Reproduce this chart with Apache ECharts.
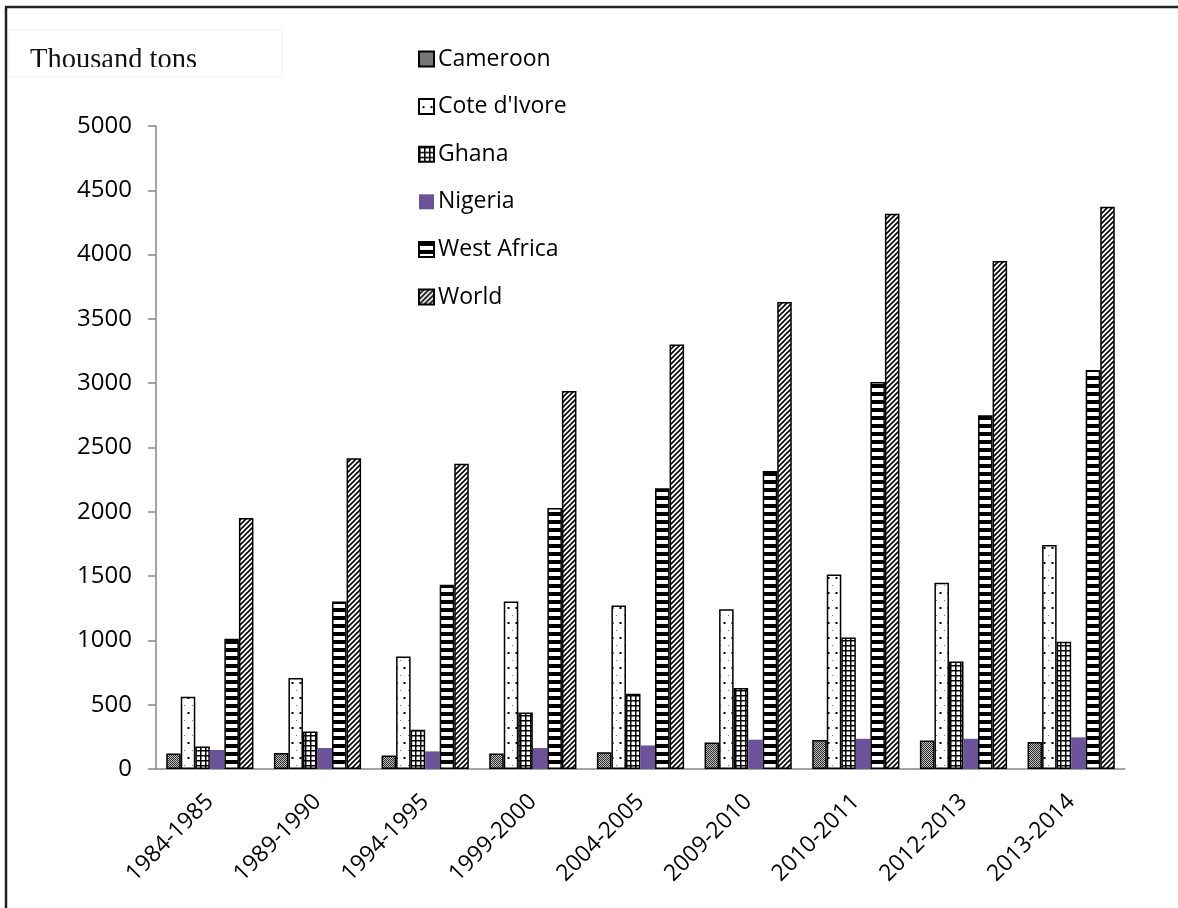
<!DOCTYPE html>
<html>
<head>
<meta charset="utf-8">
<script src="https://cdn.jsdelivr.net/npm/echarts@6/dist/echarts.min.js"></script>
<style>
html,body{margin:0;padding:0;background:#fff;}
#chart{width:1178px;height:908px;}
</style>
</head>
<body>
<div id="chart"></div>
<script>
// ---- data ----
const categories = ['1984-1985','1989-1990','1994-1995','1999-2000','2004-2005','2009-2010','2010-2011','2012-2013','2013-2014'];
const seriesNames = ['Cameroon', "Cote d'Ivore", 'Ghana', 'Nigeria', 'West Africa', 'World'];
const cameroon   = [120, 125, 105, 120, 130, 207, 225, 221, 209];
const coteDIvore = [562, 707, 875, 1303, 1272, 1243, 1512, 1449, 1742];
const ghana      = [175, 292, 305, 440, 585, 630, 1023, 836, 989];
const nigeria    = [148, 163, 137, 163, 183, 228, 235, 235, 246];
const westAfrica = [1013, 1303, 1432, 2029, 2184, 2318, 3010, 2751, 3102];
const world      = [1951, 2417, 2373, 2940, 3300, 3632, 4318, 3951, 4373];
const yTicks = { min: 0, max: 5000, interval: 500 };
const yUnit = 'Thousand tons';

// ---- patterns ----
function tile(w, h, draw) {
  const c = document.createElement('canvas');
  c.width = w; c.height = h;
  const ctx = c.getContext('2d');
  ctx.fillStyle = '#fff'; ctx.fillRect(0, 0, w, h);
  draw(ctx, w, h);
  return { image: c, repeat: 'repeat' };
}
const patCameroon = tile(2, 2, (ctx) => {
  ctx.fillStyle = '#c4c4c4'; ctx.fillRect(0,0,2,2);
  ctx.fillStyle = '#2a2a2a'; ctx.fillRect(0,0,1,1); ctx.fillRect(1,1,1,1);
});
const patCote = tile(8, 15, (ctx) => {
  ctx.fillStyle = '#000'; ctx.fillRect(3.5, 7, 2, 2);
  ctx.fillStyle = '#777'; ctx.fillRect(0, 0, 1, 1);
});
const patGhana = tile(5, 5, (ctx) => {
  ctx.fillStyle = '#000';
  ctx.fillRect(0, 0, 5, 1.5);
  ctx.fillRect(0, 0, 1.5, 5);
});
const patWA = tile(4, 8, (ctx) => {
  ctx.fillStyle = '#000'; ctx.fillRect(0, 0, 4, 4);
});
const patWorld = tile(5, 5, (ctx) => {
  ctx.strokeStyle = '#000'; ctx.lineWidth = 1.6;
  ctx.beginPath();
  ctx.moveTo(-1, 6); ctx.lineTo(6, -1);
  ctx.moveTo(-1, 1); ctx.lineTo(1, -1);
  ctx.moveTo(4, 6); ctx.lineTo(6, 4);
  ctx.stroke();
});

const fills = [patCameroon, patCote, patGhana, '#6c5299', patWA, patWorld];
const values = [cameroon, coteDIvore, ghana, nigeria, westAfrica, world];

const chart = echarts.init(document.getElementById('chart'));
const font = '"Open Sans", "Noto Sans", sans-serif';

chart.setOption({
  animation: false,
  backgroundColor: '#fff',
  grid: { left: 156, right: 53, top: 126, bottom: 139, containLabel: false },
  legend: {
    orient: 'vertical',
    left: 413, top: 42,
    itemWidth: 15, itemHeight: 15,
    itemGap: 23.6,
    icon: 'rect',
    textStyle: { fontFamily: font, fontSize: 23, color: '#000', lineHeight: 24, padding: [0,0,0,-1] },
    data: seriesNames
  },
  xAxis: {
    type: 'category',
    data: categories,
    axisLine: { lineStyle: { color: '#868686', width: 1.5 } },
    axisTick: { length: 7, lineStyle: { color: '#868686', width: 1.5 } },
    axisLabel: { rotate: 45, margin: 29, fontFamily: font, fontSize: 23, color: '#000' }
  },
  yAxis: {
    type: 'value',
    min: yTicks.min, max: yTicks.max, interval: yTicks.interval,
    axisLine: { show: true, lineStyle: { color: '#868686', width: 1.5 } },
    axisTick: { show: true, length: 8, lineStyle: { color: '#868686', width: 1.5 } },
    splitLine: { show: false },
    axisLabel: { margin: 24, fontFamily: font, fontSize: 24, color: '#000', formatter: (v) => String(v) }
  },
  series: seriesNames.map((name, i) => ({
    name,
    type: 'bar',
    data: values[i],
    barGap: '0%',
    barCategoryGap: '19%',
    itemStyle: i === 3
      ? { color: fills[i] }
      : { color: fills[i], borderColor: '#000', borderWidth: 1.5 }
  })),
  graphic: [
    { type: 'line', shape: { x1: 5, y1: 7, x2: 1178, y2: 7 }, style: { stroke: '#222', lineWidth: 2.5 }, z: 100 },
    { type: 'line', shape: { x1: 6, y1: 7, x2: 6, y2: 908 }, style: { stroke: '#222', lineWidth: 2.5 }, z: 100 },
    { type: 'rect', shape: { x: 8, y: 30, width: 274, height: 47 }, style: { fill: '#fff', stroke: '#f1f1f1', lineWidth: 1 }, z: 90 },
    { type: 'text', left: 30, top: 46, style: { text: yUnit, fontFamily: '"Liberation Serif", "Times New Roman", serif', fontSize: 28.5, fill: '#111' }, z: 91 },
    { type: 'rect', shape: { x: 9, y: 67, width: 272, height: 9 }, style: { fill: '#fff' }, z: 92 }
  ]
});
</script>
</body>
</html>
